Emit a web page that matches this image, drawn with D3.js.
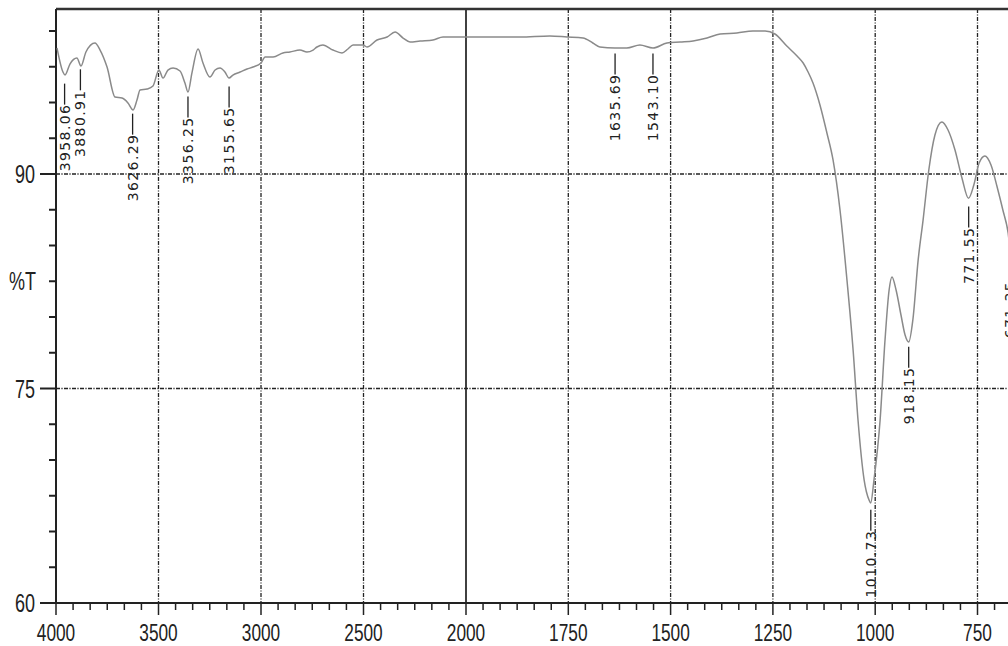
<!DOCTYPE html>
<html>
<head>
<meta charset="utf-8">
<script src="https://cdn.jsdelivr.net/npm/d3@7"></script>
<style>
  body { margin: 0; background: #fff; }
  svg { display: block; }
</style>
</head>
<body>
<div id="chart"></div>
<script>
const width = 1008, height = 646;

// spectrum (wavenumber cm-1 / %T)
const wavenumber = [
  3995, 3966, 3956, 3932, 3898, 3878, 3854, 3810, 3785, 3751,
  3712, 3678, 3649, 3624, 3605, 3590, 3556, 3527, 3498, 3478,
  3454, 3429, 3395, 3371, 3356, 3337, 3307, 3283, 3249, 3224,
  3200, 3176, 3156, 3137, 3102, 3068, 3039, 3000, 2980, 2941,
  2893, 2859, 2810, 2776, 2746, 2727, 2698, 2649, 2605, 2576,
  2551, 2502, 2483, 2434, 2385, 2346, 2307, 2273, 2224, 2161,
  2112, 2044, 2005, 1966, 1868, 1795, 1753, 1714, 1690, 1673,
  1636, 1607, 1575, 1543, 1509, 1477, 1445, 1411, 1379, 1338,
  1299, 1269, 1245, 1216, 1191, 1176, 1164, 1152, 1135, 1118,
  1103, 1086, 1069, 1054, 1042, 1027, 1015, 1011, 1003, 988,
  976, 966, 959, 949, 937, 927, 918, 908, 895, 883,
  869, 854, 837, 822, 805, 788, 772, 759, 746, 732,
  717, 702, 688, 675, 671, 655
];
const transmittance = [
  98.81, 97.13, 96.92, 97.69, 98.11, 97.55, 98.53, 99.16, 98.67, 97.48,
  95.38, 95.31, 94.97, 94.48, 95.17, 95.87, 95.94, 96.15, 97.27, 96.71,
  97.27, 97.41, 97.20, 96.36, 95.73, 97.06, 98.74, 97.76, 96.78, 97.27,
  97.41, 97.13, 96.71, 96.92, 97.13, 97.34, 97.48, 97.76, 98.18, 98.18,
  98.46, 98.53, 98.67, 98.53, 98.67, 98.88, 99.02, 98.67, 98.46, 98.74,
  99.02, 99.02, 98.88, 99.37, 99.58, 99.93, 99.51, 99.23, 99.30, 99.37,
  99.58, 99.58, 99.58, 99.58, 99.58, 99.65, 99.58, 99.51, 99.16, 98.88,
  98.81, 98.81, 99.02, 98.81, 99.16, 99.23, 99.30, 99.51, 99.79, 99.86,
  100.0, 100.0, 99.79, 98.95, 98.25, 97.76, 97.13, 96.36, 94.83, 92.87,
  90.98, 87.48, 82.59, 77.69, 72.80, 68.60, 67.20, 66.99, 68.60, 72.80,
  78.39, 81.89, 82.80, 81.89, 80.14, 78.74, 78.25, 79.79, 83.99, 86.78,
  90.28, 92.73, 93.64, 93.08, 91.68, 89.72, 88.30, 89.23, 90.77, 91.26,
  90.63, 89.09, 87.48, 85.87, 85.0, 87.5
];

// peak labels
const peakLabels = ["3958.06", "3880.91", "3626.29", "3356.25", "3155.65",
  "1635.69", "1543.10", "1010.73", "918.15", "771.55", "671.35"];
const peakWn = [3958.06, 3880.91, 3626.29, 3356.25, 3155.65,
  1635.69, 1543.10, 1010.73, 918.15, 771.55, 671.35];
const peakT = [96.6, 97.6, 94.5, 95.7, 96.4, 98.7, 98.7, 66.8, 78.2, 88.0, 84.2];

// axis labels
const xTickLabels = [4000, 3500, 3000, 2500, 2000, 1750, 1500, 1250, 1000, 750];
const xGridDotted = [3500, 3000, 2500, 1750, 1500, 1250, 1000, 750];
const yTickLabels = [90, 75, 60];
const yAxisTitle = "%T";

const plotLeft = 56, plotTop = 9, plotBottom = 603;

const svg = d3.select("#chart")
  .append("svg")
  .attr("width", width)
  .attr("height", height);

// x scale has a break in slope at 2000
const x = d3.scaleLinear()
  .domain([4000, 2000, 650])
  .range([plotLeft, 466, 466 + 1350 * 0.4092]);

const y = d3.scaleLinear()
  .domain([60, 90])
  .range([plotBottom, 174]);

const gridDash = "4,1.4,1.2,1.4";

// vertical grid
svg.selectAll("line.vgrid")
  .data(xGridDotted)
  .enter()
  .append("line")
  .attr("class", "vgrid")
  .attr("x1", d => x(d)).attr("x2", d => x(d))
  .attr("y1", plotTop).attr("y2", plotBottom)
  .attr("stroke", "#222")
  .attr("stroke-width", 1.3)
  .attr("stroke-dasharray", gridDash);

// solid line at the scale break
svg.append("line")
  .attr("x1", x(2000)).attr("x2", x(2000))
  .attr("y1", plotTop).attr("y2", plotBottom)
  .attr("stroke", "#111")
  .attr("stroke-width", 1.6);

// horizontal grid
svg.selectAll("line.hgrid")
  .data(yTickLabels.filter(d => d !== 60))
  .enter()
  .append("line")
  .attr("class", "hgrid")
  .attr("x1", plotLeft).attr("x2", width)
  .attr("y1", d => y(d)).attr("y2", d => y(d))
  .attr("stroke", "#222")
  .attr("stroke-width", 1.3)
  .attr("stroke-dasharray", gridDash);

// frame
svg.append("line")
  .attr("x1", plotLeft).attr("x2", width)
  .attr("y1", plotTop).attr("y2", plotTop)
  .attr("stroke", "#333")
  .attr("stroke-width", 2.5);
svg.append("line")
  .attr("x1", plotLeft).attr("x2", plotLeft)
  .attr("y1", plotTop).attr("y2", plotBottom)
  .attr("stroke", "#222")
  .attr("stroke-width", 2);
svg.append("line")
  .attr("x1", plotLeft).attr("x2", width)
  .attr("y1", plotBottom).attr("y2", plotBottom)
  .attr("stroke", "#222")
  .attr("stroke-width", 2);

// y ticks every 2.5
const yTicks = d3.range(60, 101, 2.5);
svg.selectAll("line.ytick")
  .data(yTicks)
  .enter()
  .append("line")
  .attr("x1", d => yTickLabels.includes(d) ? plotLeft - 16 : plotLeft - 7)
  .attr("x2", plotLeft)
  .attr("y1", d => y(d)).attr("y2", d => y(d))
  .attr("stroke", "#222")
  .attr("stroke-width", 2);

// x ticks: 6 per major interval
const xTicks = d3.range(0, 25).map(i => 4000 - i * 500 / 6)
  .concat(d3.range(1, 33).map(i => 2000 - i * 250 / 6));
svg.selectAll("line.xtick")
  .data(xTicks)
  .enter()
  .append("line")
  .attr("x1", d => x(d)).attr("x2", d => x(d))
  .attr("y1", plotBottom)
  .attr("y2", d => xTickLabels.some(t => Math.abs(t - d) < 1) ? plotBottom + 12 : plotBottom + 7)
  .attr("stroke", "#222")
  .attr("stroke-width", 1.5);

// condensed axis text
function narrowText(px, py, txt, anchor, size) {
  svg.append("text")
    .attr("transform", `translate(${px},${py}) scale(0.72,1)`)
    .attr("text-anchor", anchor)
    .attr("font-family", "'Liberation Sans', Arial, sans-serif")
    .attr("font-size", size)
    .attr("fill", "#222")
    .text(txt);
}

xTickLabels.forEach(d => narrowText(x(d), 641, d, "middle", 24));
yTickLabels.forEach(d => narrowText(35, y(d) + 9, d, "end", 25));
narrowText(36, y(82.5) + 9, yAxisTitle, "end", 25);

// spectrum
const line = d3.line()
  .x(d => x(d[0]))
  .y(d => y(d[1]))
  .curve(d3.curveMonotoneX);

svg.append("path")
  .datum(wavenumber.map((w, i) => [w, transmittance[i]]))
  .attr("d", line)
  .attr("fill", "none")
  .attr("stroke", "#8a8a8a")
  .attr("stroke-width", 1.5);

// peak markers
const peaks = svg.selectAll("g.peak")
  .data(peakLabels.map((t, i) => ({ label: t, wn: peakWn[i], t: peakT[i] })))
  .enter()
  .append("g")
  .attr("class", "peak")
  .attr("transform", d => `translate(${x(d.wn)},${y(d.t) + 4})`);

peaks.append("line")
  .attr("x1", 0).attr("x2", 0)
  .attr("y1", 0).attr("y2", 21)
  .attr("stroke", "#222")
  .attr("stroke-width", 1.3);

peaks.append("text")
  .attr("transform", "translate(0,20) rotate(-90)")
  .attr("text-anchor", "end")
  .attr("dominant-baseline", "central")
  .attr("font-family", "'DejaVu Sans', Verdana, sans-serif")
  .attr("font-size", 14)
  .attr("letter-spacing", 1.4)
  .attr("fill", "#222")
  .text(d => d.label);
</script>
</body>
</html>
